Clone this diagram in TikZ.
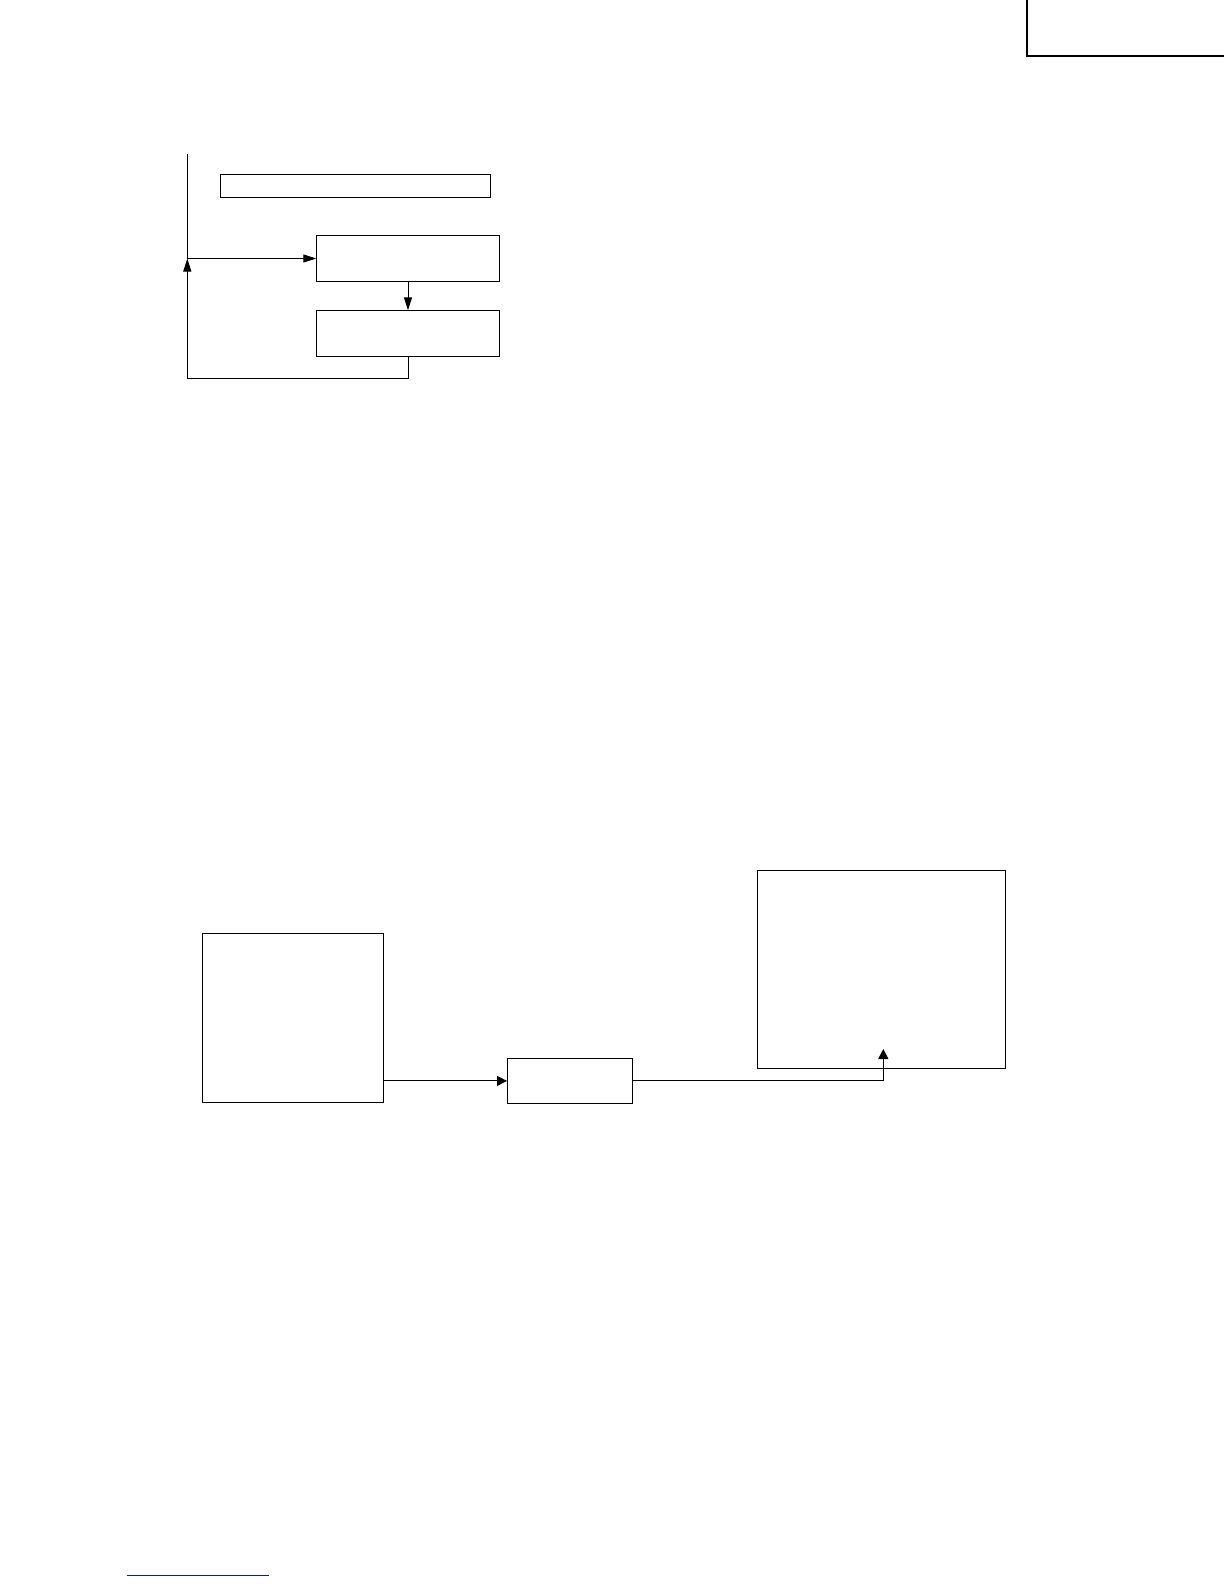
\documentclass[tikz,border=0pt]{standalone}
\usetikzlibrary{arrows.meta}
\definecolor{linkblue}{RGB}{24,24,150}
\begin{document}
\begin{tikzpicture}[x=0.5pt, y=-0.5pt, line width=0.5pt,
    box/.style = {draw, rectangle, inner sep=0pt, outer sep=0pt},
    tipa/.style = {-{Triangle[length=6.5pt, width=4pt]}},
    tipb/.style = {-{Triangle[length=5pt, width=5pt]}}]
    \useasboundingbox (0,0) rectangle (1224,1584);

    % corner mark
    \draw[line width=0.85pt] (1026.7,0) -- (1026.7,55.7) -- (1224,55.7);

    % loop
    \node[box, minimum width=135pt, minimum height=11.5pt] (bar) at (355.3,185.8) {};
    \node[box, minimum width=91.7pt, minimum height=22.8pt] (a) at (408,258.5) {};
    \node[box, minimum width=91.7pt, minimum height=23pt] (b) at (408,333.3) {};
    \coordinate (top) at (187.3,154);
    \coordinate (j) at (187.3,258.5);
    \coordinate (loop) at (187.3,378.3);

    \draw (top) -- (j);
    \draw[tipa] (j) -- (a.west);
    \draw[tipa] (a) -- (b);
    \draw[tipa] (b.south) |- (loop) -- (j);

    % chain
    \node[box, minimum width=90.85pt, minimum height=84.85pt] (l) at (292.85,1017.85) {};
    \node[box, minimum width=62.5pt, minimum height=22.7pt] (m) at (569.5,1080.9) {};
    \node[box, minimum width=124.2pt, minimum height=98.8pt] (r) at (881.6,969.5) {};
    \coordinate (rtip) at (883.3,1049);

    \draw[tipb] (l.east |- m.west) -- (m.west);
    \draw[tipb] (m.east) -| (rtip);

    \draw[linkblue] (126.7,1575) -- (269,1575);
  \end{tikzpicture}
\end{document}
